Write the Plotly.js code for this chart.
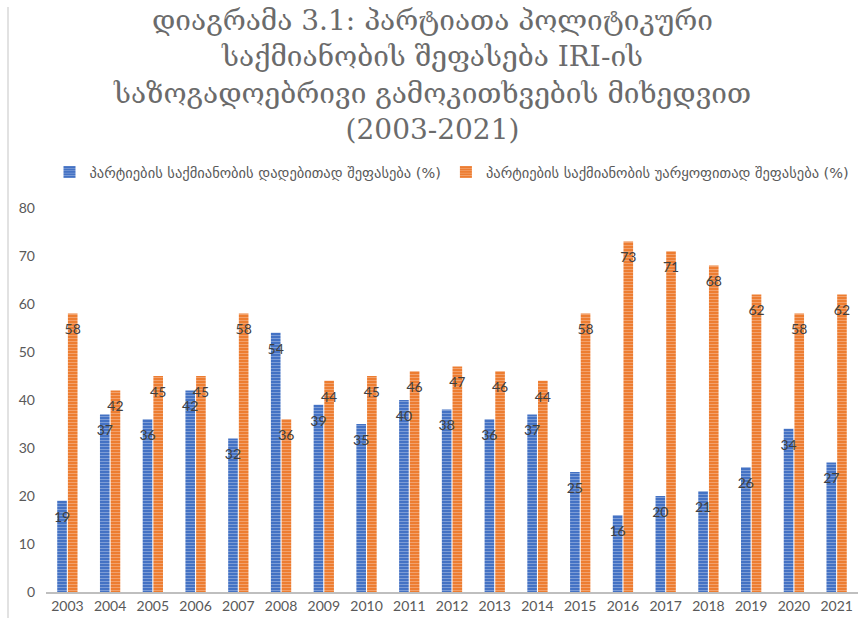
<!DOCTYPE html>
<html>
<head>
<meta charset="utf-8">
<script src="https://cdn.plot.ly/plotly-3.0.1.min.js"></script>
<style>html,body{margin:0;padding:0;background:#fff;}#chart{width:865px;height:628px;}</style>
</head>
<body>
<div id="chart"></div>
<script>
const years = ['2003','2004','2005','2006','2007','2008','2009','2010','2011','2012','2013','2014','2015','2016','2017','2018','2019','2020','2021'];
const positive = [19,37,36,42,32,54,39,35,40,38,36,37,25,16,20,21,26,34,27];
const negative = [58,42,45,45,58,36,44,45,46,47,46,44,58,73,71,68,62,58,62];
const seriesNames = ['პარტიების საქმიანობის დადებითად შეფასება (%)', 'პარტიების საქმიანობის უარყოფითად შეფასება (%)'];
const titleText = 'დიაგრამა 3.1: პარტიათა პოლიტიკური<br>საქმიანობის შეფასება IRI-ის<br>საზოგადოებრივი გამოკითხვების მიხედვით<br>(2003-2021)';

const W = 865, H = 628;
const ml = 46, mr = 7, mt = 208, mb = 36;
const plotW = W - ml - mr, plotH = H - mt - mb;
const labelFont = {family: 'Lato, "Liberation Sans", sans-serif', size: 14, color: '#404040'};

function barTrace(vals, name, color, light, grp) {
  return {
    type: 'bar', x: years, y: vals, name: name, offsetgroup: grp,
    marker: {color: color, line: {width: 0},
      pattern: {shape: '-', fgcolor: light, bgcolor: color, size: 3, solidity: 0.25}},
    hoverinfo: 'x+y'
  };
}
function labelTrace(vals, grp) {
  return {
    type: 'scatter', mode: 'markers+text', x: years, y: vals, offsetgroup: grp,
    marker: {size: 15, color: 'rgba(0,0,0,0)', line: {width: 0}},
    text: vals.map(String), textposition: 'bottom center', textfont: labelFont,
    showlegend: false, hoverinfo: 'skip', cliponaxis: false
  };
}

const data = [
  barTrace(positive, seriesNames[0], '#4472C4', '#8FA9DC', 'pos'),
  barTrace(negative, seriesNames[1], '#ED7D31', '#F4AE80', 'neg'),
  labelTrace(positive, 'pos'),
  labelTrace(negative, 'neg')
];

const layout = {
  width: W, height: H,
  margin: {l: ml, r: mr, t: mt, b: mb},
  paper_bgcolor: '#ffffff', plot_bgcolor: '#ffffff',
  title: {
    text: titleText,
    font: {family: '"DejaVu Serif", serif', size: 28, color: '#6b6b6b'},
    x: 0.5, xanchor: 'center', xref: 'container',
    y: 1 - 30/H, yanchor: 'middle', yref: 'container'
  },
  barmode: 'group', bargap: 0.5, bargroupgap: 0.1,
  scattermode: 'group', scattergap: 0.5,
  showlegend: true,
  legend: {
    orientation: 'h', x: 0.5, xanchor: 'center', y: 1 + 36/plotH, yanchor: 'middle',
    font: {family: '"DejaVu Sans", sans-serif', size: 14.5, color: '#595959'},
    itemwidth: 30, tracegroupgap: 0, traceorder: 'normal'
  },
  xaxis: {
    type: 'category', showgrid: false, zeroline: false,
    showline: true, linecolor: '#bfbfbf', linewidth: 2,
    ticks: '', tickfont: {family: 'Lato, "Liberation Sans", sans-serif', size: 14, color: '#595959'}
  },
  yaxis: {
    range: [0, 80], dtick: 10, showgrid: false, zeroline: false, showline: false,
    ticks: '', ticklabelstandoff: 10,
    tickfont: {family: 'Lato, "Liberation Sans", sans-serif', size: 14, color: '#595959'}
  },
  shapes: [{
    type: 'line', xref: 'paper', yref: 'paper',
    x0: (8 - ml)/plotW, x1: (8 - ml)/plotW,
    y0: (H - mb - 618)/plotH, y1: (H - mb - 7)/plotH,
    line: {color: '#d9d9d9', width: 1.5}
  }]
};

Plotly.newPlot('chart', data, layout, {displayModeBar: false, responsive: false});
</script>
</body>
</html>
